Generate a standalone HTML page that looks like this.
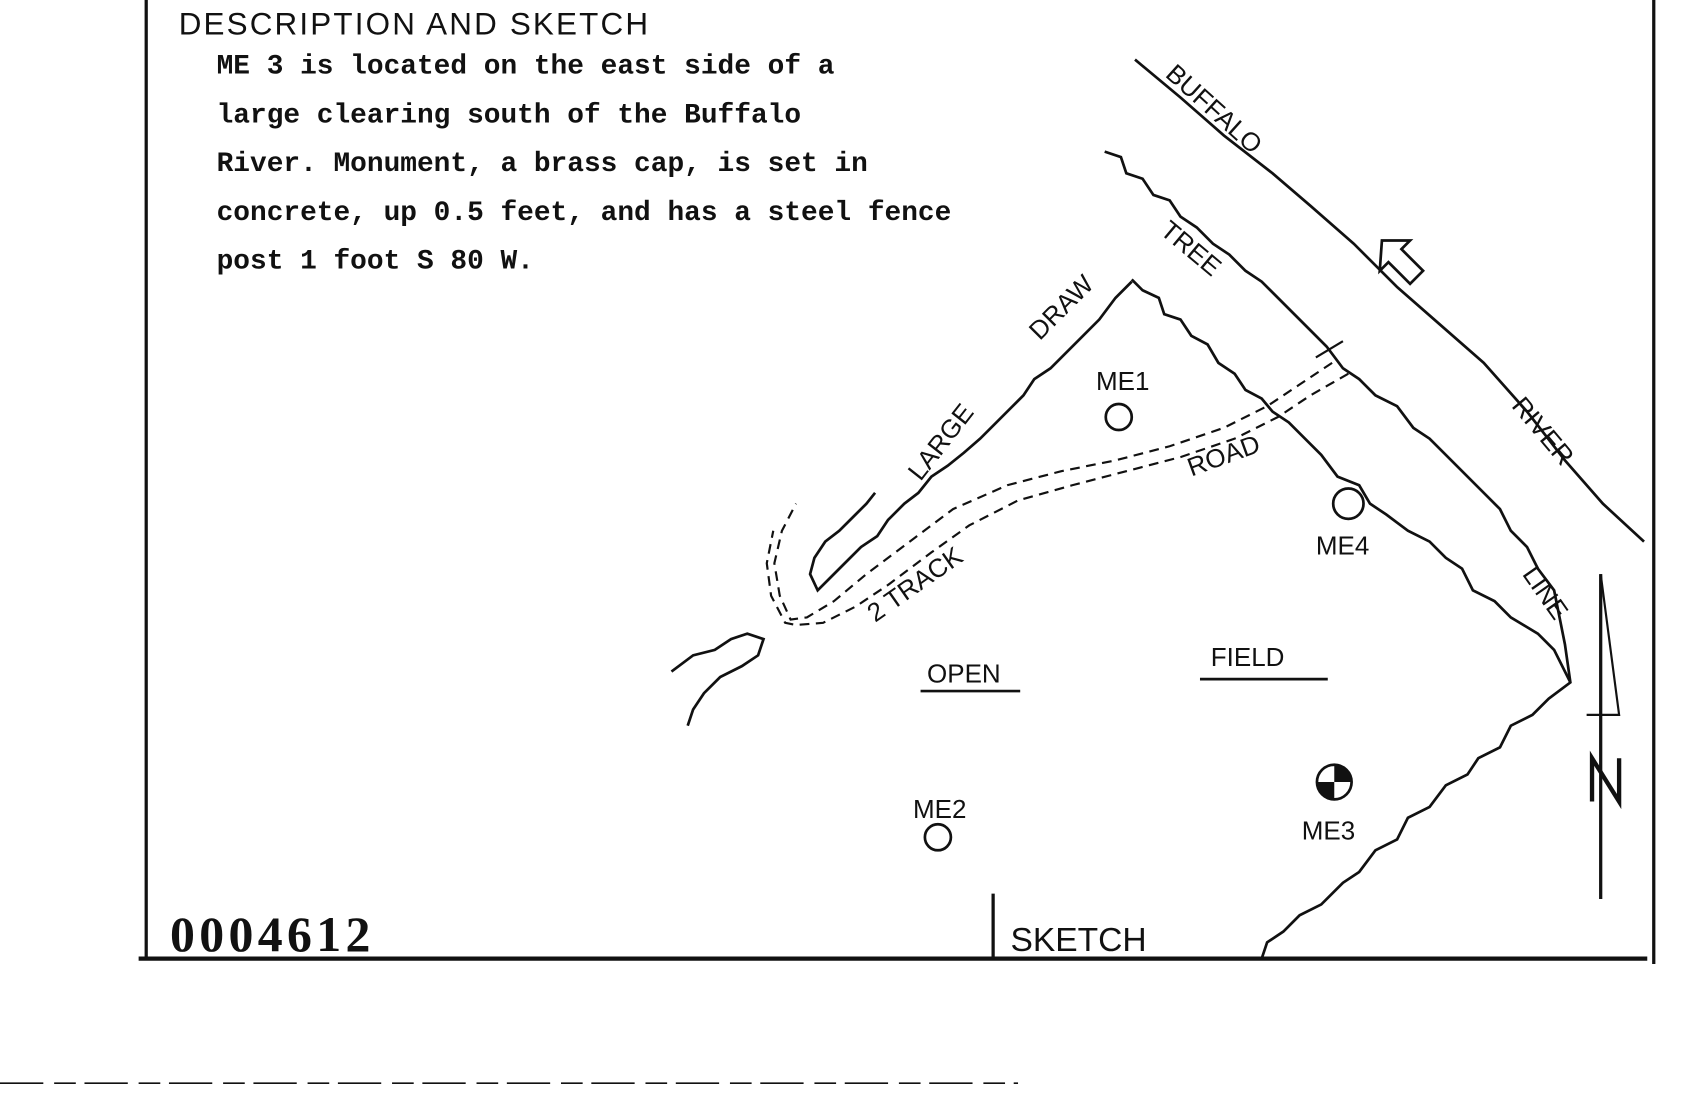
<!DOCTYPE html>
<html><head><meta charset="utf-8"><style>
html,body{margin:0;padding:0;background:#fff;width:1696px;height:1094px;overflow:hidden}
svg{display:block}
.m{font-family:"Liberation Mono",monospace;font-size:25.7px;font-weight:bold;fill:#111}
.h{font-family:"Liberation Sans",sans-serif;fill:#111}
.w{font-family:"Liberation Sans",sans-serif;font-size:24px;fill:#111}
</style></head><body>
<svg width="1696" height="1094" viewBox="0 0 1566 1010" preserveAspectRatio="none" xmlns="http://www.w3.org/2000/svg">
<g stroke="#111" fill="none">
<line x1="135" y1="0" x2="135" y2="885" stroke-width="3"/>
<line x1="128" y1="885" x2="1521" y2="885" stroke-width="4"/>
<line x1="1527" y1="0" x2="1527" y2="890" stroke-width="3"/>
<line x1="917" y1="825" x2="917" y2="885" stroke-width="3"/>
<line x1="0" y1="1000" x2="940" y2="1000" stroke-width="1.5" stroke-dasharray="40,10,20,8"/>
<polyline stroke-width="2.5" points="1048,55 1090,90 1130,125 1175,160 1210,190 1250,225 1290,265 1330,300 1370,335 1410,380 1445,425 1480,465 1518,500"/>
<polyline stroke-width="2.5" points="1020,140 1035,145 1040,160 1055,165 1065,180 1080,185 1090,200 1105,210 1120,225 1135,235 1150,250 1165,260 1180,275 1195,290 1210,305 1225,320 1240,340 1255,350 1270,365 1290,375 1305,395 1320,405 1340,425 1355,440 1370,455 1385,470 1395,490 1410,505 1420,525 1435,545 1440,570 1445,595 1450,630 1430,645 1415,660 1395,670 1385,690 1365,700 1355,715 1335,725 1320,745 1300,755 1290,775 1270,785 1255,805 1240,815 1220,835 1200,845 1185,860 1170,870 1165,885"/>
<polyline stroke-width="2.5" points="1045,258 1055,268 1070,275 1075,290 1090,295 1100,310 1115,318 1125,335 1140,345 1150,360 1165,368 1175,380 1190,390 1205,405 1220,420 1235,440 1255,448 1265,465 1280,475 1300,490 1320,500 1335,515 1350,525 1360,545 1380,555 1395,570 1420,585 1435,600 1450,630"/>
<polyline stroke-width="2.5" points="1045,260 1030,275 1015,295 1000,310 985,325 970,340 955,350 945,365 935,375 920,390 905,405 890,418 875,430 860,440 848,455 835,465 820,480 810,495 795,505 780,520 765,535 755,545 748,530 752,515 762,500 775,490 790,475 800,465 808,455"/>
<polyline stroke-width="2" stroke-dasharray="9,6" points="1230,335 1200,355 1170,375 1130,395 1080,412 1030,425 980,435 930,448 880,470 840,500 800,530 770,555 745,570 730,572 720,550 715,520 722,490 735,465"/>
<polyline stroke-width="2" stroke-dasharray="9,6" points="1245,345 1210,365 1180,385 1140,405 1090,422 1040,435 990,448 940,462 895,485 860,510 820,540 790,560 760,575 735,577 725,575 712,550 708,520 714,490"/>
<line x1="1215" y1="330" x2="1240" y2="315" stroke-width="2"/>
<polyline stroke-width="2.5" points="620,620 640,605 660,600 675,590 690,585 705,590 700,605 685,615 665,625 650,640 640,655 635,670"/>
<circle cx="1033" cy="385" r="12" stroke-width="2.5"/>
<circle cx="1245" cy="465" r="14" stroke-width="2.5"/>
<circle cx="866" cy="773" r="12" stroke-width="2.5"/>
<circle cx="1232" cy="722" r="16" stroke-width="2.5"/>
<line x1="850" y1="638" x2="942" y2="638" stroke-width="2.5"/>
<line x1="1108" y1="627" x2="1226" y2="627" stroke-width="2.5"/>
<polygon stroke-width="2.5" points="1276,222 1302,222 1294,230 1314,250 1302,262 1282,242 1274,250"/>
<line x1="1478" y1="530" x2="1478" y2="830" stroke-width="3"/>
<polyline stroke-width="2" points="1478,530 1495,660 1465,660"/>
<polyline stroke-width="4" points="1470,740 1470,700 1495,740 1495,700"/>
</g>
<path d="M1232,706 A16,16 0 0 1 1248,722 L1232,722Z M1232,738 A16,16 0 0 1 1216,722 L1232,722Z" fill="#111"/>
<text class="h" x="165" y="32" font-size="29" letter-spacing="2">DESCRIPTION  AND  SKETCH</text>
<text class="m" x="200" y="68">ME 3 is located on the east side of a</text>
<text class="m" x="200" y="113">large clearing south of the Buffalo</text>
<text class="m" x="200" y="158">River.  Monument, a brass cap, is set in</text>
<text class="m" x="200" y="203">concrete, up 0.5 feet, and has a steel fence</text>
<text class="m" x="200" y="248">post 1 foot S 80 W.</text>
<text class="h" x="933" y="878" font-size="31">SKETCH</text>
<text x="157" y="878" font-family="Liberation Serif,serif" font-weight="bold" font-size="46" letter-spacing="4" fill="#111">0004612</text>
<text class="w" transform="translate(1075,70) rotate(42)">BUFFALO</text>
<text class="w" transform="translate(1395,375) rotate(50)">RIVER</text>
<text class="w" transform="translate(1070,215) rotate(40)" font-size="20">TREE</text>
<text class="w" transform="translate(1405,530) rotate(55)" font-size="20">LINE</text>
<text class="w" transform="translate(850,445) rotate(-52)">LARGE</text>
<text class="w" transform="translate(960,315) rotate(-45)">DRAW</text>
<text class="w" transform="translate(1100,440) rotate(-20)" font-size="20">ROAD</text>
<text class="w" transform="translate(808,575) rotate(-35)" font-size="20">2 TRACK</text>
<text class="w" x="1012" y="360" font-size="22">ME1</text>
<text class="w" x="1215" y="512">ME4</text>
<text class="w" x="843" y="755" font-size="30">ME2</text>
<text class="w" x="1202" y="775">ME3</text>
<text class="w" x="856" y="630">OPEN</text>
<text class="w" x="1118" y="615">FIELD</text>
</svg>
</body></html>
